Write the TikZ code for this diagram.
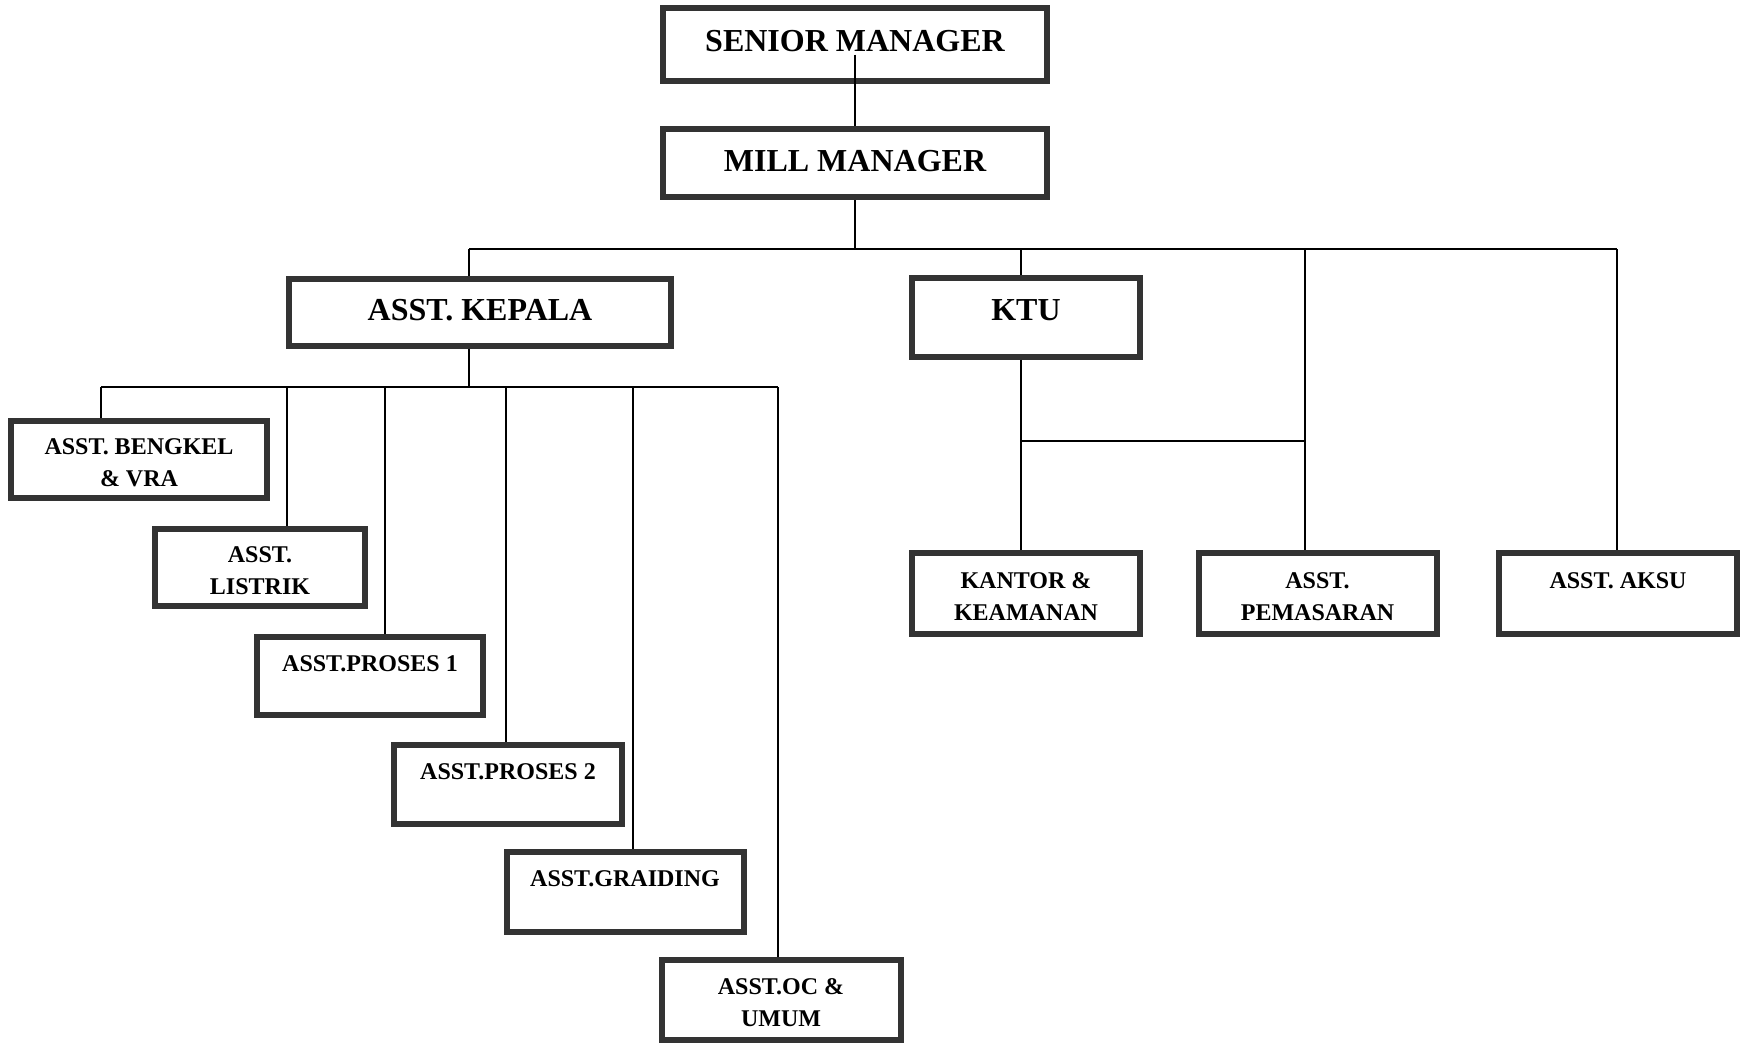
\documentclass[tikz,border=0pt]{standalone}
\usepackage{fontspec}
\setmainfont{Liberation Serif}
\definecolor{boxline}{HTML}{333333}
\tikzset{
  bigbox/.style={draw=boxline, line width=3pt, fill=white, align=center,
    inner sep=0pt, font=\fontsize{16}{19}\selectfont\bfseries},
  smallbox/.style={draw=boxline, line width=3pt, fill=white, align=center,
    inner sep=0pt, font=\fontsize{12}{16}\selectfont\bfseries},
  link/.style={line width=1pt, black}
}
\begin{document}
\begin{tikzpicture}[x=0.5pt,y=-0.5pt]
   \useasboundingbox (0,0) rectangle (1747,1049);

   \node[bigbox, minimum width=192pt, minimum height=36.5pt, text depth=3.4pt] (SM) at (855,44.5) {SENIOR MANAGER};
   \node[bigbox, minimum width=192pt, minimum height=34pt, text depth=2.2pt] (MM) at (855,163) {MILL MANAGER};
   \node[bigbox, minimum width=191pt, minimum height=33.5pt, text depth=2.2pt] (Kepala) at (480,312) {ASST. KEPALA};
   \node[bigbox, minimum width=114pt, minimum height=39.5pt, text depth=6.6pt] (KTU) at (1026,317) {KTU};

   \node[smallbox, minimum width=128pt, minimum height=38.5pt] (Bengkel) at (139,459.5) {\strut ASST. BENGKEL\\\& VRA};
   \node[smallbox, minimum width=105pt, minimum height=38.5pt] (Listrik) at (260,567.5) {\strut ASST.\\LISTRIK};
   \node[smallbox, minimum width=113pt, minimum height=39pt] (Proses1) at (370,676) {\strut ASST.PROSES 1\\\mbox{}};
   \node[smallbox, minimum width=114pt, minimum height=39.5pt] (Proses2) at (508,784) {\strut ASST.PROSES 2\\\mbox{}};
   \node[smallbox, minimum width=118.5pt, minimum height=40pt] (Graiding) at (625,891.5) {\strut ASST.GRAIDING\\\mbox{}};
   \node[smallbox, minimum width=119.5pt, minimum height=40pt] (Oc) at (781,999.5) {\strut ASST.OC \&\\UMUM};

   \node[smallbox, minimum width=114pt, minimum height=40.5pt] (Kantor) at (1026,593) {\strut KANTOR \&\\KEAMANAN};
   \node[smallbox, minimum width=119pt, minimum height=40.5pt] (Pemasaran) at (1317.5,593) {\strut ASST.\\PEMASARAN};
   \node[smallbox, minimum width=119pt, minimum height=40.5pt] (Aksu) at (1618,593) {\strut ASST. AKSU\\\mbox{}};

   \coordinate (busL) at (469,249);
   \coordinate (busR) at (1617,249);
   \coordinate (ktuTop) at (1021,249);
   \coordinate (pemTop) at (1305,249);
   \coordinate (ktuJoin) at (1021,441);
   \coordinate (subL) at (101,387);
   \coordinate (subR) at (778,387);

   \draw[link] ([yshift=-5pt]SM.center) -- (MM.north);
   \draw[link] (MM.south) -- (MM.south |- busL);
   \draw[link] (busL) -- (busR);
   \draw[link] (busL) -- (busL |- Kepala.north);
   \draw[link] (ktuTop) -- (ktuTop |- KTU.north);
   \draw[link] (ktuTop |- KTU.south) -- (ktuTop |- Kantor.north);
   \draw[link] (ktuJoin) -- (pemTop |- ktuJoin);
   \draw[link] (pemTop) -- (pemTop |- Pemasaran.north);
   \draw[link] (busR) -- (busR |- Aksu.north);

   \draw[link] (busL |- Kepala.south) -- (busL |- subL);
   \draw[link] (subL) -- (subR);
   \foreach \x/\n in {101/Bengkel, 287/Listrik, 385/Proses1, 506/Proses2, 633/Graiding, 778/Oc}
     {
     \coordinate (drop) at (\x,387);
     \draw[link] (drop) -- (drop |- \n.north);
     }

 \end{tikzpicture}
\end{document}
